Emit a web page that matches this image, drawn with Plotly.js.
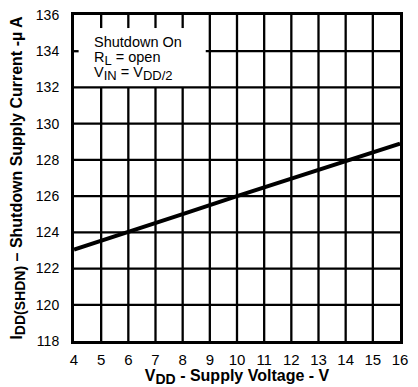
<!DOCTYPE html>
<html><head><meta charset="utf-8">
<script src="https://cdn.plot.ly/plotly-3.0.1.min.js"></script>
<style>html,body{margin:0;padding:0;background:#fff}</style>
</head><body>
<div id="chart" style="width:418px;height:387px"></div>
<script>
const vdd = [4, 6, 8, 10, 12, 14, 16];
const iddShdn = [123.05, 124.0, 125.0, 126.0, 126.95, 127.95, 128.9];
const xTicks = [4,5,6,7,8,9,10,11,12,13,14,15,16];
const yTicks = [118,120,122,124,126,128,130,132,134,136];
const noteLines = ['Shutdown On', 'R<sub><span style="font-size:13px">L</span></sub> = open',
  'V<sub><span style="font-size:13px">IN</span></sub> = V<sub><span style="font-size:13px">DD/2</span></sub>'];

const font = 'Liberation Sans, Arial, sans-serif';
const xr = [4, 16], yr = [118, 136];
// region kept clear for the note (in axis units), and grid stub lengths
const box = {x1: 8.85, y0: 132};
const stubY = 0.72, stubX = 0.17;
const trace = {x: vdd, y: iddShdn, mode: 'lines', line: {color: '#000', width: 4}, hoverinfo: 'skip'};

const gl = {color: '#000', width: 2.3};
const seg = (x0, x1, y0, y1) => ({type: 'line', xref: 'x', yref: 'y', x0, x1, y0, y1, line: gl, layer: 'below'});
const shapes = [];
xTicks.slice(1, -1).forEach(v => {
  if (v < box.x1) {
    shapes.push(seg(v, v, yr[0], box.y0));
    shapes.push(seg(v, v, yr[1] - stubY, yr[1]));
  } else {
    shapes.push(seg(v, v, yr[0], yr[1]));
  }
});
yTicks.slice(1, -1).forEach(v => {
  if (v > box.y0) {
    shapes.push(seg(xr[0], xr[0] + stubX, v, v));
    shapes.push(seg(box.x1, xr[1], v, v));
  } else {
    shapes.push(seg(xr[0], xr[1], v, v));
  }
});

const annotations = noteLines.map((t, i) => ({xref: 'paper', yref: 'paper', x: 0.058, y: 0.945 - i * 0.046,
  xanchor: 'left', yanchor: 'top', align: 'left', text: t, showarrow: false,
  font: {size: 14.5, family: font}, borderpad: 0}));

const layout = {
  width: 418, height: 387,
  margin: {l: 74, r: 18, t: 15, b: 46},
  paper_bgcolor: '#fff', plot_bgcolor: '#fff',
  showlegend: false,
  font: {family: font, color: '#000', size: 15},
  xaxis: {
    range: xr, tickvals: xTicks, ticktext: xTicks.map(String),
    showgrid: false,
    showline: true, linecolor: '#000', linewidth: 3, mirror: true,
    ticks: '', ticklabelstandoff: 3,
    zeroline: false, tickfont: {size: 15, family: font},
    title: {text: '<b>V<sub><span style="font-size:14px">DD</span></sub> - Supply Voltage - V</b>', font: {size: 16, family: font}, standoff: 4}
  },
  yaxis: {
    range: yr, tickvals: yTicks, ticktext: yTicks.map(String),
    showgrid: false,
    showline: true, linecolor: '#000', linewidth: 3, mirror: true,
    ticks: '', ticklabelstandoff: 9,
    zeroline: false, tickfont: {size: 14, family: font},
    title: {text: '<b>I<sub><span style="font-size:14px">DD(SHDN)</span></sub> \u2013 Shutdown Supply Current -\u00b5 A</b>', font: {size: 16, family: font}, standoff: 10}
  },
  shapes: shapes,
  annotations: annotations
};
Plotly.newPlot('chart', [trace], layout, {staticPlot: true});
</script>
</body></html>
